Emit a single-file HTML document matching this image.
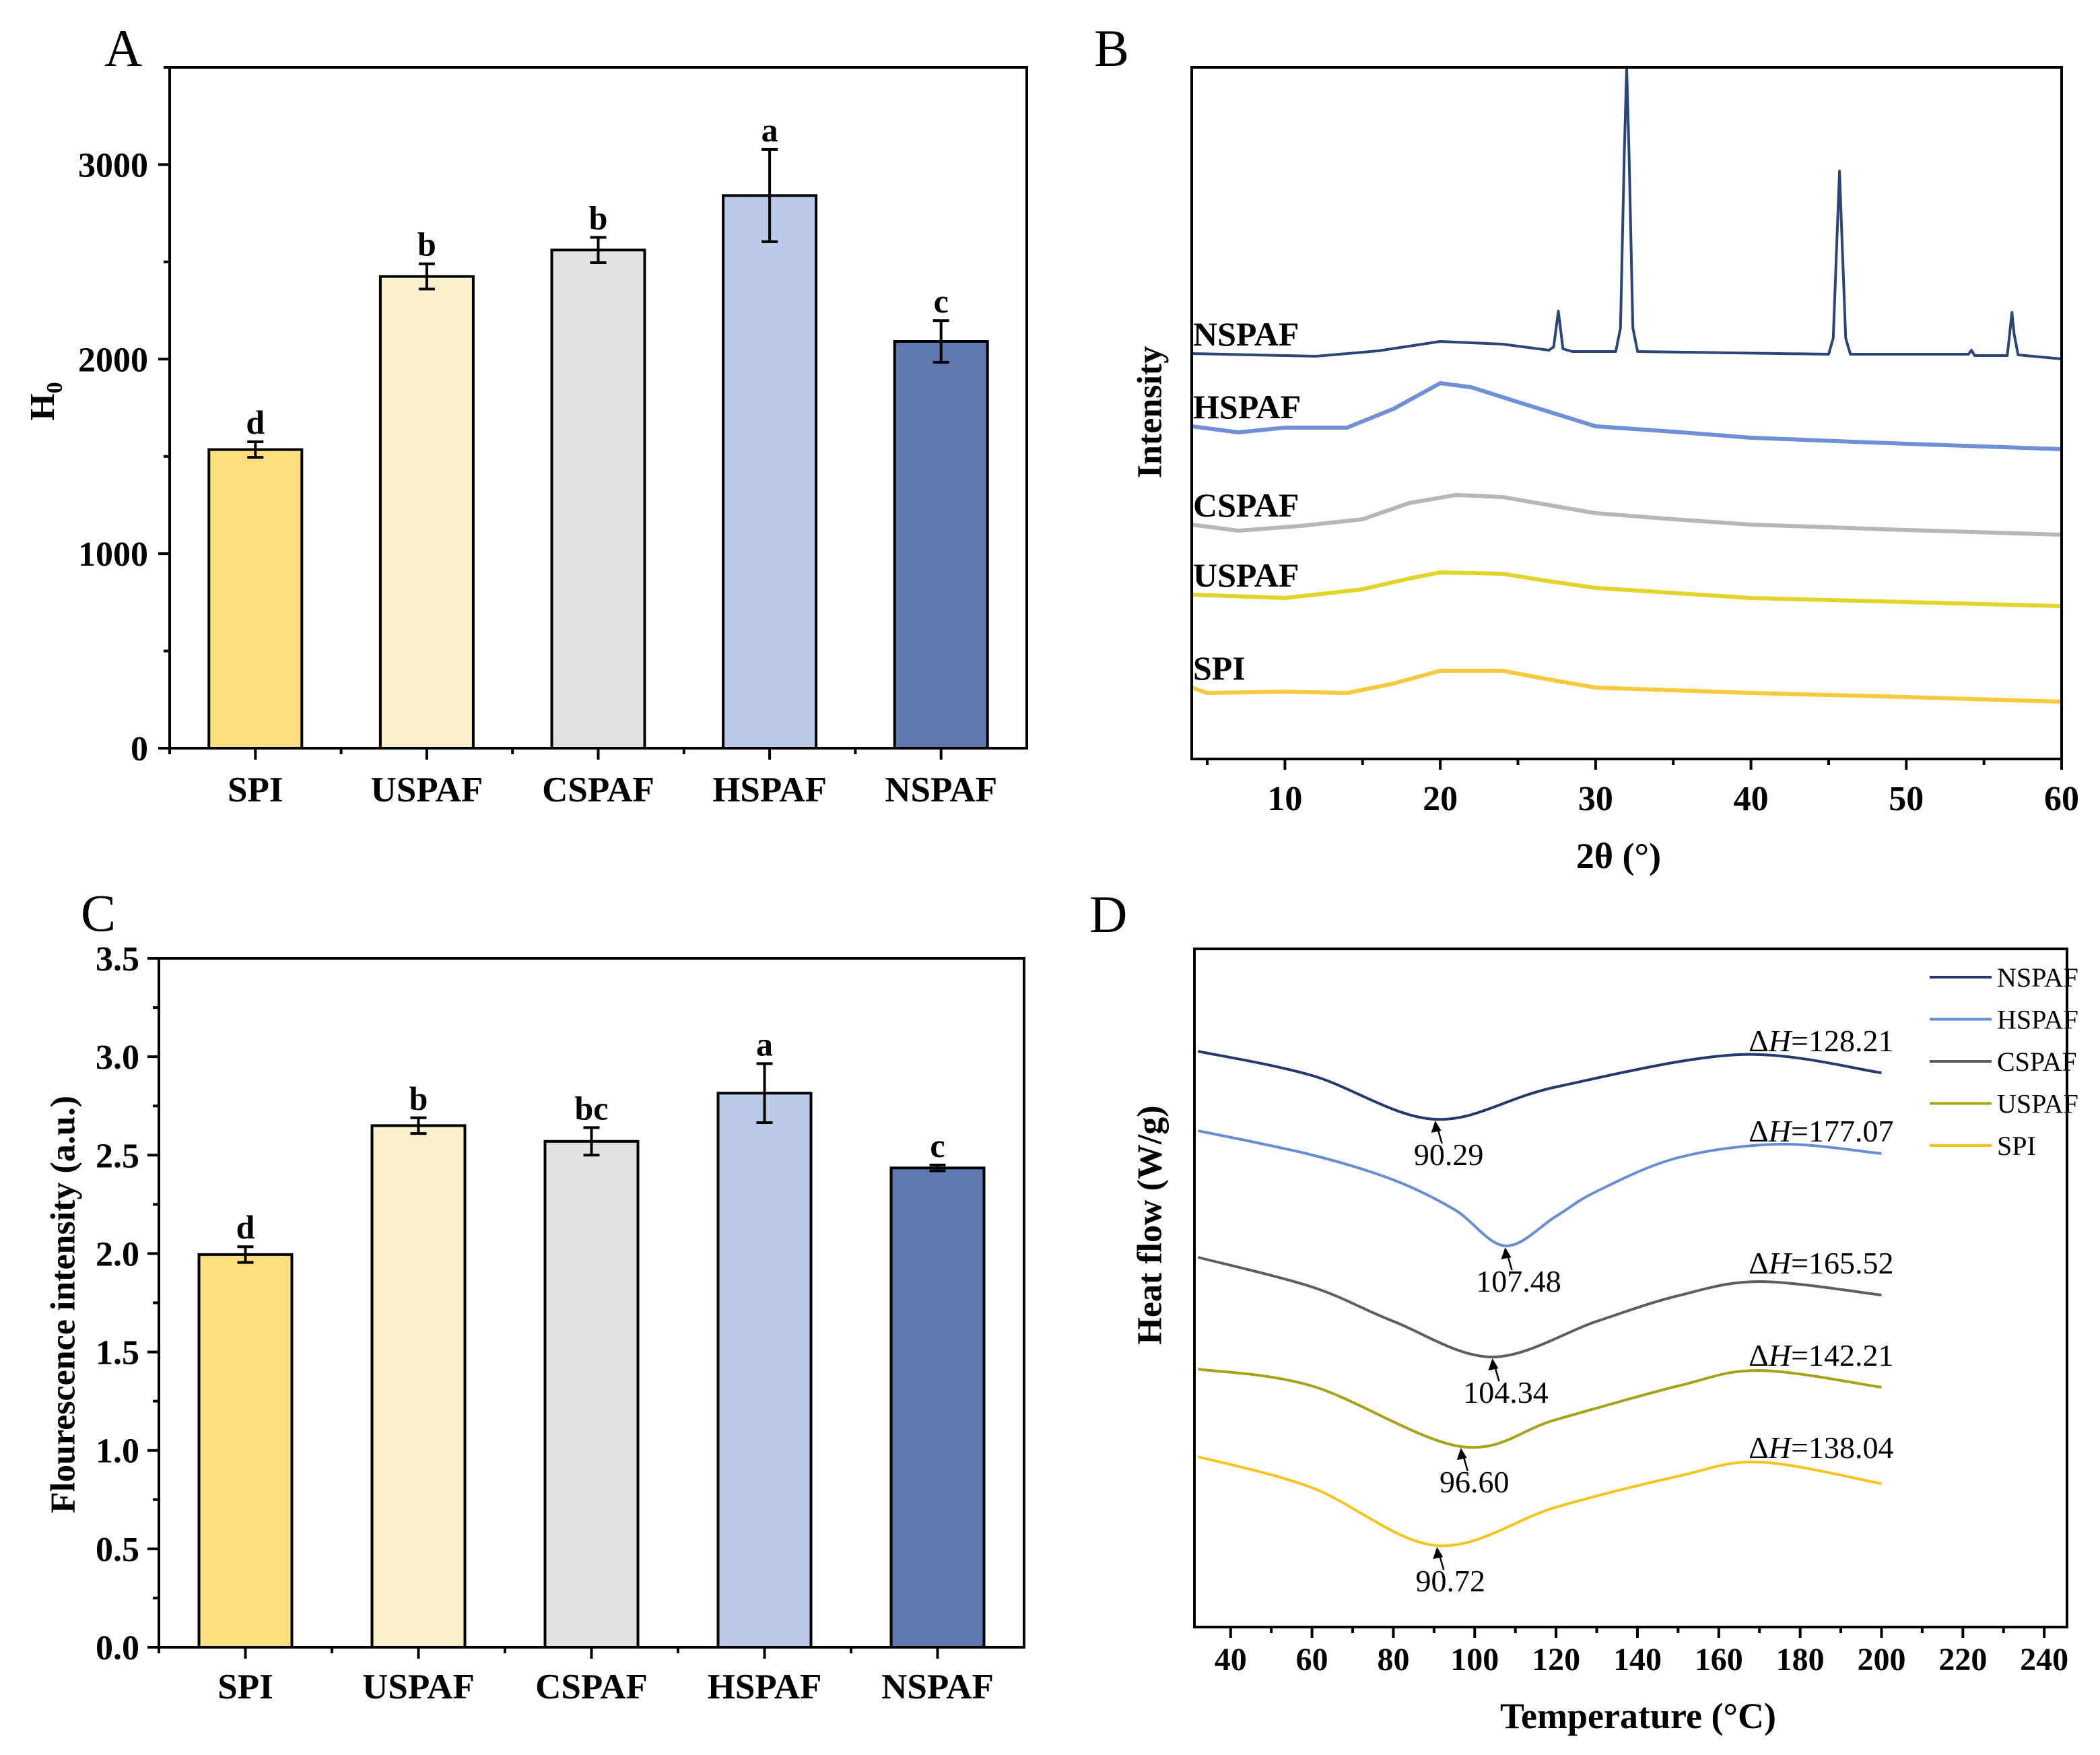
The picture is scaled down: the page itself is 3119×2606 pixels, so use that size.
<!DOCTYPE html>
<html><head><meta charset="utf-8"><style>
html,body{margin:0;padding:0;background:#fff;}
svg{display:block;font-family:"Liberation Serif",serif;}
</style></head><body>
<svg id="fig" xmlns="http://www.w3.org/2000/svg" width="3119" height="2606" viewBox="0 0 3119 2606">
<rect x="0" y="0" width="3119" height="2606" fill="#fff"/>
</svg>
<script>
// ---------- data ----------
const barCats = ["SPI","USPAF","CSPAF","HSPAF","NSPAF"];
const barColors = ["#FDDF80","#FAF0CC","#E2E2E2","#BACAE8","#5F78AE"];
const h0Values = [1535, 2425, 2561, 2841, 2091];
const h0Errors = [40, 65, 65, 237, 107];
const h0Letters = ["d","b","b","a","c"];
const h0Ticks = [0, 1000, 2000, 3000];
const fluorValues = [1.995, 2.65, 2.57, 2.815, 2.435];
const fluorErrors = [0.04, 0.04, 0.07, 0.15, 0.015];
const fluorLetters = ["d","b","bc","a","c"];
const fluorTicks = [0, 0.5, 1.0, 1.5, 2.0, 2.5, 3.0, 3.5];

// XRD (2theta, intensity offset units)
const xrdNames = ["NSPAF","HSPAF","CSPAF","USPAF","SPI"];
const xrdColors = ["#2B4577","#6F8FD6","#B7B7B7","#E3D42C","#F7C93C"];
const xrdNSPAF = [[4,602],[8,600],[12,598],[16,606],[20,620],[24,616],[27,607],[27.3,612],[27.6,665],[27.9,609],[28.5,605],[31.3,605],[31.6,640],[31.85,900],[32,1027],[32.15,900],[32.4,640],[32.7,605],[45,601],[45.3,625],[45.55,780],[45.7,873],[45.85,780],[46.1,625],[46.4,601],[54,601],[54.2,607],[54.4,599],[56.5,599],[56.65,630],[56.8,663],[56.95,630],[57.2,600],[60,594]];
const xrdHSPAF = [[4,494],[7,485],[10,492],[14,492],[17,520],[20,558],[22,552],[25,530],[30,494],[35,486],[40,477],[50,468],[60,460]];
const xrdCSPAF = [[4,348],[7,339],[11,346],[15,356],[18,380],[21,392],[24,389],[27,377],[30,365],[35,356],[40,348],[50,340],[60,333]];
const xrdUSPAF = [[4,244],[10,239],[15,252],[18,268],[20,277],[24,275],[27,264],[30,254],[40,239],[50,233],[60,227]];
const xrdSPI = [[4,106],[5,98],[10,100],[14,98],[17,112],[20,131],[24,131],[27,118],[30,106],[40,98],[50,92],[60,85]];
const xrdSeries = [xrdNSPAF, xrdHSPAF, xrdCSPAF, xrdUSPAF, xrdSPI];
const xrdTicks = [10,20,30,40,50,60];

// DSC (temperature, heat-flow offset units)
const dscNames = ["NSPAF","HSPAF","CSPAF","USPAF","SPI"];
const dscColors = ["#233A6B","#6A8DD2","#5E5E5E","#A8A218","#F4C520"];
const dscNSPAF = [[32,855],[60,819],[90.29,754],[120,802],[165,850],[200,823]];
const dscHSPAF = [[32,737],[60,701],[80,664],[95,620],[107.48,566],[120,610],[130,647],[150,697],[175,717],[200,703]];
const dscCSPAF = [[32,549],[60,505],[80,454],[104.34,401],[130,454],[150,492],[170,513],[200,493]];
const dscUSPAF = [[32,383],[60,358],[96.6,268],[120,308],[150,358],[170,381],[200,356]];
const dscSPI = [[32,253],[60,207],[90.72,121],[120,178],[150,224],[170,245],[200,213]];
const dscSeries = [dscNSPAF, dscHSPAF, dscCSPAF, dscUSPAF, dscSPI];
const dscPeaks = [90.29, 107.48, 104.34, 96.60, 90.72];
const dscEnthalpy = ["128.21","177.07","165.52","142.21","138.04"];
const dscTicks = [40,60,80,100,120,140,160,180,200,220,240];

// ---------- helpers ----------
const NS = "http://www.w3.org/2000/svg";
const svg = document.getElementById("fig");
function el(tag, attrs, parent){
  const e = document.createElementNS(NS, tag);
  for (const k in attrs) e.setAttribute(k, attrs[k]);
  (parent||svg).appendChild(e);
  return e;
}
function txt(s, attrs, parent){
  const e = el("text", attrs, parent);
  e.textContent = s;
  return e;
}
function smoothPath(pts){
  let d = "M" + pts[0][0].toFixed(1) + "," + pts[0][1].toFixed(1);
  for (let i=0;i<pts.length-1;i++){
    const p0 = pts[i-1]||pts[i], p1=pts[i], p2=pts[i+1], p3=pts[i+2]||p2;
    const c1x = p1[0]+(p2[0]-p0[0])/6, c1y = p1[1]+(p2[1]-p0[1])/6;
    const c2x = p2[0]-(p3[0]-p1[0])/6, c2y = p2[1]-(p3[1]-p1[1])/6;
    d += " C"+c1x.toFixed(1)+","+c1y.toFixed(1)+" "+c2x.toFixed(1)+","+c2y.toFixed(1)+" "+p2[0].toFixed(1)+","+p2[1].toFixed(1);
  }
  return d;
}

// ---------- bar panels ----------
function barPanel(cfg){
  const g = el("g", {});
  
  
  const {left,right,top,bottom,ymin,ymax} = cfg;
  const yS = v => bottom - (v-ymin)/(ymax-ymin)*(bottom-top);
  const band = (right-left)/barCats.length;
  const cx = i => left + band*(i+0.5);
  const bw = 138;
  barCats.forEach((c,i)=>{
    const v = cfg.values[i], e = cfg.errors[i];
    const r = el("rect", {x:cx(i)-bw/2, y:yS(v), width:bw, height:yS(ymin)-yS(v), fill:barColors[i], stroke:"#000","stroke-width":4}, g);
    
    
    const eb = el("path", {d:"M"+cx(i)+","+yS(v-e)+" V"+yS(v+e)+" M"+(cx(i)-12)+","+yS(v-e)+" H"+(cx(i)+12)+" M"+(cx(i)-12)+","+yS(v+e)+" H"+(cx(i)+12), stroke:"#000","stroke-width":4, fill:"none"}, g);
    
    
    const lt = txt(cfg.letters[i], {x:cx(i), y:yS(v+e)-12, "text-anchor":"middle","font-weight":"bold","font-size":50}, g);
    
    
    const xl = txt(c, {x:cx(i), y:cfg.xLabelY, "text-anchor":"middle","font-weight":"bold","font-size":53}, g);
    
    
  });
  const fr = el("rect", {x:left,y:top,width:right-left,height:bottom-top,fill:"none",stroke:"#000","stroke-width":4}, g);
  
  
  let tp = "";
  cfg.ticks.forEach(t=>{ tp += "M"+left+","+yS(t)+" H"+(left-17); });
  for (let k=0;k<cfg.ticks.length-1;k++){ const m=(cfg.ticks[k]+cfg.ticks[k+1])/2; tp += "M"+left+","+yS(m)+" H"+(left-9); }
  const lastT = cfg.ticks[cfg.ticks.length-1] + (cfg.ticks[1]-cfg.ticks[0])/2;
  if (lastT <= ymax) tp += "M"+left+","+yS(lastT)+" H"+(left-9);
  barCats.forEach((c,i)=>{ tp += "M"+cx(i)+","+bottom+" V"+(bottom+17); tp += "M"+(left+band*i)+","+bottom+" V"+(bottom+9); });
  const tk = el("path", {d:tp, stroke:"#000","stroke-width":4, fill:"none"}, g);
  
  
  cfg.ticks.forEach(t=>{
    const tl = txt(cfg.fmt(t), {x:cfg.yLabelX, y:yS(t)+18, "text-anchor":"end","font-weight":"bold","font-size":52}, g);
    
    
  });
  return g;
}

const gA = barPanel({name:"panel-a-h0-chart", left:252,right:1525,top:100,bottom:1111,ymin:0,ymax:3500, values:h0Values, errors:h0Errors, letters:h0Letters, ticks:h0Ticks, fmt:t=>String(t), yLabelX:220, xLabelY:1190});
const ya = txt("H", {x:0,y:0,"font-weight":"bold","font-size":52,"text-anchor":"middle",transform:"translate(80,596) rotate(-90)"}, gA);
const sub = el("tspan", {"font-size":34, dy:12}, ya); sub.textContent = "0";


const la = txt("A", {x:155,y:98,"font-size":78}, gA);



const gC = barPanel({name:"panel-c-fluorescence-chart", left:236,right:1521,top:1423,bottom:2446,ymin:0,ymax:3.5, values:fluorValues, errors:fluorErrors, letters:fluorLetters, ticks:fluorTicks, fmt:t=>t.toFixed(1), yLabelX:207, xLabelY:2522});
const yc = txt("Flourescence intensity (a.u.)", {x:0,y:0,"font-weight":"bold","font-size":52,"text-anchor":"middle","dominant-baseline":"central",transform:"translate(94,1937) rotate(-90)"}, gC);


const lc = txt("C", {x:120,y:1382,"font-size":78}, gC);



// ---------- panel B (XRD) ----------
const gB = el("g", {});


const bL=1770,bR=3062,bT=100,bB=1127, bX0=4, bX1=60;
const xB = v => bL + (v-bX0)/(bX1-bX0)*(bR-bL);
const yB = v => bB - v;
xrdSeries.forEach((s,i)=>{
  const p = el("path", {d:"M"+s.map(q=>xB(q[0]).toFixed(1)+","+Math.max(bT,yB(q[1])).toFixed(1)).join(" L"), stroke:xrdColors[i], "stroke-width": i===0?4:6, fill:"none","stroke-linejoin":"round"}, gB);
  
  
  const lbl = txt(xrdNames[i], {x:1772, y:yB(s[0][1])-12, "font-weight":"bold","font-size":50}, gB);
  
  
});
const bf = el("rect", {x:bL,y:bT,width:bR-bL,height:bB-bT,fill:"none",stroke:"#000","stroke-width":4}, gB);


let tickPathB = "";
for (let v=5; v<=60; v+=5){ tickPathB += "M"+xB(v)+","+bB+" V"+(bB+(v%10===0?16:9)); }
const tb = el("path", {d:tickPathB, stroke:"#000","stroke-width":4}, gB);


xrdTicks.forEach(t=>{
  const tl = txt(String(t), {x:xB(t), y:1203, "text-anchor":"middle","font-weight":"bold","font-size":52}, gB);
  
  
});
const xbT = txt("2θ (°)", {x:2404, y:1289, "text-anchor":"middle","font-weight":"bold","font-size":54}, gB);


const ybT = txt("Intensity", {x:0,y:0,"text-anchor":"middle","dominant-baseline":"central","font-weight":"bold","font-size":52,transform:"translate(1708,612) rotate(-90)"}, gB);


const lb = txt("B", {x:1625,y:98,"font-size":78}, gB);



// ---------- panel D (DSC) ----------
const gD = el("g", {});


const dL=1774,dR=3070,dT=1409,dBot=2416, dX0=31.1, dX1=245.6;
const xD = v => dL + (v-dX0)/(dX1-dX0)*(dR-dL);
const yD = v => dBot - v;
const ehOff = [32, 18, 32, 32, 38];
dscSeries.forEach((s,i)=>{
  const p = el("path", {d:smoothPath(s.map(q=>[xD(q[0]),yD(q[1])])), stroke:dscColors[i],"stroke-width":4,fill:"none"}, gD);
  
  
  const pk = s.find(q=>Math.abs(q[0]-dscPeaks[i])<0.01);
  const tx = xD(pk[0]), ty = yD(pk[1]);
  const ar = el("path", {d:"M"+(tx+10)+","+(ty+36)+" L"+(tx+2)+","+(ty+8), stroke:"#000","stroke-width":2.5,fill:"none"}, gD);
  
  
  const ah = el("path", {d:"M"+tx+","+(ty+2)+" L"+(tx-6)+","+(ty+20)+" L"+(tx+9)+","+(ty+17)+" Z", fill:"#000"}, gD);
  
  
  const pl = txt(dscPeaks[i].toFixed(2), {x:tx+20, y:ty+68, "text-anchor":"middle","font-size":46}, gD);
  
  
  const last = s[s.length-1];
  const eh = txt("", {x:xD(last[0])+18, y:yD(last[1]) - ehOff[i], "text-anchor":"end","font-size":46}, gD);
  const t1 = el("tspan", {}, eh); t1.textContent = "Δ";
  const t2 = el("tspan", {"font-style":"italic"}, eh); t2.textContent = "H";
  const t3 = el("tspan", {}, eh); t3.textContent = "=" + dscEnthalpy[i];
  
  
  const ly = 1451 + i*62.5;
  const ll = el("line", {x1:2866,x2:2958,y1:ly,y2:ly,stroke:dscColors[i],"stroke-width":4}, gD);
  
  
  const lt = txt(dscNames[i], {x:2966, y:ly+14, "font-size":40}, gD);
  
  
});
const df = el("rect", {x:dL,y:dT,width:dR-dL,height:dBot-dT,fill:"none",stroke:"#000","stroke-width":4}, gD);


let tickPathD = "";
for (let v=40; v<=240; v+=10){ tickPathD += "M"+xD(v)+","+dBot+" V"+(dBot+(v%20===0?16:9)); }
const td = el("path", {d:tickPathD, stroke:"#000","stroke-width":4}, gD);


dscTicks.forEach(t=>{
  const tl = txt(String(t), {x:xD(t), y:2480, "text-anchor":"middle","font-weight":"bold","font-size":48}, gD);
  
  
});
const xdT = txt("Temperature (°C)", {x:2433, y:2566, "text-anchor":"middle","font-weight":"bold","font-size":54}, gD);


const ydT = txt("Heat flow (W/g)", {x:0,y:0,"text-anchor":"middle","dominant-baseline":"central","font-weight":"bold","font-size":52,transform:"translate(1708,1819) rotate(-90)"}, gD);


const ld = txt("D", {x:1618,y:1384,"font-size":78}, gD);


</script>
</body></html>
